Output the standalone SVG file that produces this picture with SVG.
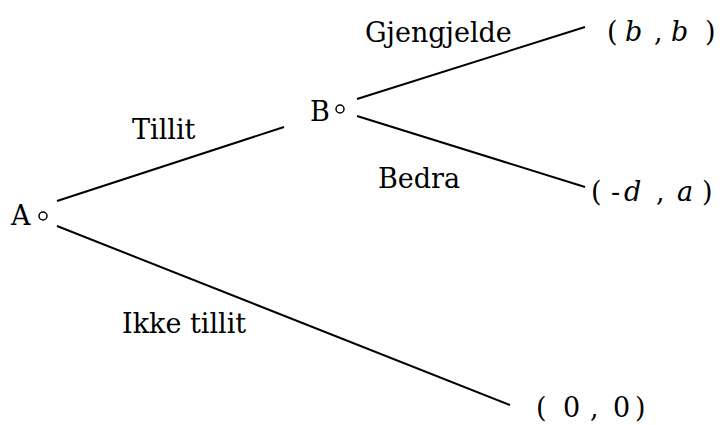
<svg xmlns="http://www.w3.org/2000/svg" width="724" height="425" viewBox="0 0 724 425">
  <style>
    text { font-family: "DejaVu Serif", "Liberation Serif", serif; font-size: 27px; fill: #000; }
    .it { font-style: italic; }
    .edge { stroke: #000; stroke-width: 2; fill: none; }
    .dot { stroke: #000; stroke-width: 1.5; fill: #fff; }
  </style>
  <rect width="724" height="425" fill="#fff"/>
  <g id="connectors">
    <line class="edge" x1="57" y1="201" x2="284" y2="127"/>
    <line class="edge" x1="57" y1="226" x2="510" y2="405"/>
    <line class="edge" x1="357" y1="99" x2="585" y2="27"/>
    <line class="edge" x1="357" y1="116" x2="585" y2="187"/>
  </g>
  <g id="labels">
    <text x="365" y="42">Gjengjelde</text>
    <text x="132" y="139">Tillit</text>
    <text x="378" y="188">Bedra</text>
    <text x="122" y="333">Ikke tillit</text>
  </g>
  <g id="node-A">
    <text x="11" y="225">A</text>
    <circle class="dot" cx="43" cy="216" r="4"/>
  </g>
  <g id="node-B">
    <text x="310" y="121">B</text>
    <circle class="dot" cx="340" cy="109" r="4"/>
  </g>
  <g id="payoff-bb">
    <text y="41"><tspan x="607">(</tspan><tspan x="625" class="it">b</tspan><tspan x="654">,</tspan><tspan x="671" class="it">b</tspan><tspan x="705">)</tspan></text>
  </g>
  <g id="payoff-da">
    <text y="201"><tspan x="591">(</tspan><tspan x="611">-</tspan><tspan x="624" class="it">d</tspan><tspan x="656">,</tspan><tspan x="677" class="it">a</tspan><tspan x="702">)</tspan></text>
  </g>
  <g id="payoff-00">
    <text y="417"><tspan x="536">(</tspan><tspan x="563">0</tspan><tspan x="590">,</tspan><tspan x="613">0</tspan><tspan x="635">)</tspan></text>
  </g>
</svg>
